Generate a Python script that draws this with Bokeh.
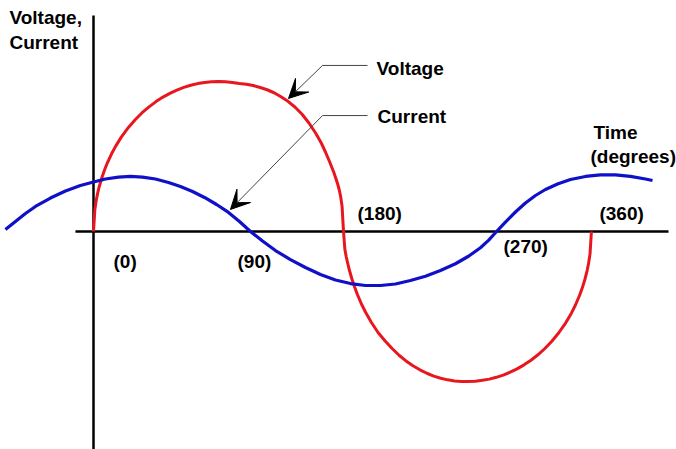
from bokeh.plotting import figure
from bokeh.models import Arrow, VeeHead, Range1d, ColumnDataSource
from bokeh.core.properties import value
from bokeh.embed import file_html
from bokeh.resources import INLINE

# ---- data: x in degrees, y in relative units (voltage peak = 100) ----
volt_deg = [0, 1, 2, 3, 4, 6, 8, 10, 13, 16, 20, 25, 30, 35, 40, 45, 50, 55, 60, 65, 70, 75, 80, 85, 90,
            95, 100, 105, 110, 115, 120, 125, 130, 135, 140, 145, 150, 155, 160, 164, 167, 170, 173, 175, 176, 177, 178, 179, 180,
            181, 182, 183, 184, 186, 188, 190, 193, 196, 200, 205, 210, 215, 220, 225, 230, 235, 240, 245, 250, 255, 260, 265, 269,
            275, 280, 285, 290, 295, 300, 305, 310, 315, 320, 325, 330, 335, 340, 344, 347, 350, 352, 354, 355.5, 356.5, 357.5, 358.5]
volt_val = [0, 14.9, 21.0, 25.6, 29.5, 35.9, 41.2, 45.8, 51.8, 56.9, 62.9, 69.2, 74.5, 79.2, 83.1, 86.6, 89.6, 92.1, 94.3, 96.1, 97.5, 98.6, 99.4, 99.8, 100,
            99.8, 99.4, 98.7, 98.2, 97.3, 96, 94.5, 92.5, 89.8, 86.8, 83, 78.3, 72.5, 65.5, 59, 53, 46.5, 39.5, 34, 31, 27.5, 23, 16.5, 0,
            -12, -17, -21, -25, -31.5, -37, -42, -48.5, -54, -60.5, -67.5, -73, -78, -82.5, -86.3, -89.5, -92.2, -94.5, -96.4, -97.8, -98.9, -99.6, -100, -100,
            -99.8, -99.2, -98.4, -97.2, -95.7, -93.8, -91.6, -88.9, -85.8, -82.2, -78, -73.2, -67.5, -60.9, -54.6, -49, -42.5, -37.4, -31.3, -25.7, -21, -14.9, 0]

cur_deg = [-63.4, -56.2, -49.0, -41.8, -31.0, -20.2, -9.4, 0, 8.6, 18.0, 26.6, 35.3, 44.6, 54.0, 62.6, 71.3, 79.9, 88.6, 97.2, 105.1, 113.0,
           121.7, 131.0, 141.8, 152.6, 163.4, 174.2, 185.0, 195.8, 206.6, 217.4, 228.2, 239.0, 249.8, 260.6, 270.0, 278.6, 284.4, 290.2,
           296.6, 303.8, 311.0, 318.2, 325.4, 334.1, 343.4, 354.2, 365.0, 375.8, 386.6, 397.4, 402.5]
cur_val = [1.3, 6.7, 12, 16.7, 22.3, 27, 30.7, 33, 35, 36.3, 36.7, 36.3, 35, 32.7, 30, 26.7, 22.7, 18, 12.7, 6.7, 0,
           -6.3, -12.7, -18.7, -24, -28.7, -32.3, -34.7, -36, -36, -35, -32.7, -29.8, -26.0, -21.5, -16.5, -10.8, -5.9, 0,
           6.3, 13, 19, 24, 28, 31.7, 34.7, 36.7, 37.7, 37.7, 36.7, 35, 34]

tick_labels = ["(0)", "(90)", "(180)", "(270)", "(360)"]
tick_x = [14.4, 103.7, 190.1, 295.2, 364.3]
tick_y = [-20.3, -20.3, 11.7, -9.7, 11.7]

RED = "#E8161E"
BLUE = "#1010C8"
FONT = value("Liberation Sans")

p = figure(width=676, height=449, output_backend="svg", toolbar_location=None,
           x_range=Range1d(-66.96, 419.76), y_range=Range1d(-145.33, 154.0),
           x_axis_location=None, y_axis_location=None,
           min_border=0, min_border_left=0, min_border_right=0, min_border_top=0, min_border_bottom=0)
p.grid.visible = False
p.outline_line_color = None
p.background_fill_color = "white"
p.border_fill_color = "white"

# axes drawn as plain lines
p.segment(x0=[-13], y0=[0], x1=[414], y1=[0], line_color="black", line_width=2.5)
p.segment(x0=[0], y0=[144], x1=[0], y1=[-146], line_color="black", line_width=2.5)

# curves
p.line(volt_deg, volt_val, line_color=RED, line_width=3, line_join="round")
p.line(cur_deg, cur_val, line_color=BLUE, line_width=3.2, line_join="round")

# leader lines and arrows
LEAD = "#444444"
p.segment(x0=[164.9, 164.9], y0=[110.7, 77.3], x1=[197.3, 197.3], y1=[110.7, 77.3], line_color=LEAD, line_width=1)
p.add_layout(Arrow(end=VeeHead(size=19, fill_color="black", line_color="black"),
                   x_start=164.9, y_start=110.7, x_end=140.4, y_end=88.7, line_color=LEAD, line_width=1))
p.add_layout(Arrow(end=VeeHead(size=19, fill_color="black", line_color="black"),
                   x_start=164.9, y_start=77.3, x_end=98.6, y_end=14.7, line_color=LEAD, line_width=1))

# texts
labels = ["Voltage,", "Current", "Voltage", "Current", "Time", "(degrees)"] + tick_labels
lx = [-60.5, -60.5, 203.8, 204.5, 360.0, 357.8] + tick_x
ly = [143.0, 125.7, 109.0, 77.0, 65.7, 49.7] + tick_y
src = ColumnDataSource(dict(x=lx, y=ly, t=labels))
p.text(x="x", y="y", text="t", source=src, text_font=FONT, text_font_style="bold",
       text_font_size="19px", text_color="black", text_baseline="alphabetic", text_align="left")

open("out.html", "w").write(file_html(p, INLINE))
